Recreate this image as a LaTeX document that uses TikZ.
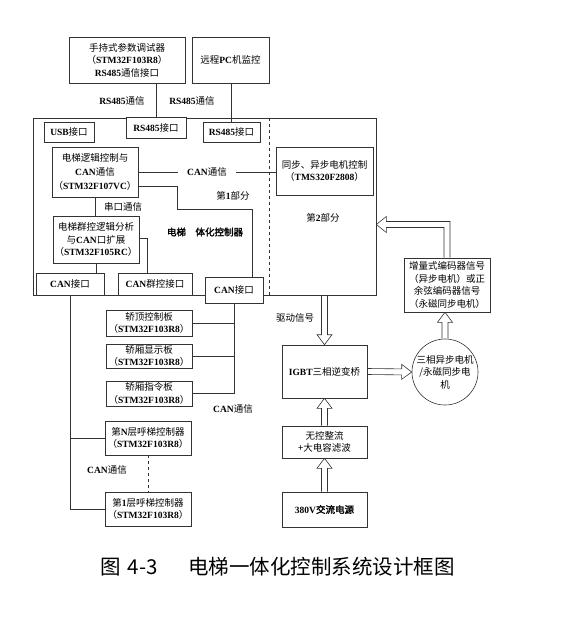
\documentclass[tikz,border=0pt]{standalone}
\usepackage{fontspec}
\setmainfont{Noto Sans CJK SC}[AutoFakeBold=2]
\newfontfamily\enfont{Liberation Serif}
\newcommand{\en}[1]{{\enfont\bfseries #1}}
\usetikzlibrary{calc}
\tikzset{
  box/.style={draw=black!80, line width=0.6pt, fill=white, align=center, inner sep=1pt},
  conn/.style={draw=black!80, line width=0.6pt},
  hollow/.style={draw=black!80, line width=0.6pt, line join=miter},
}
% block arrow from #1 to #2
\newcommand{\hollowarrow}[2]{%
  \coordinate (hb) at ($(#2)!10pt!(#1)$);
  \draw[hollow] ($(#1)!3pt!90:(#2)$) -- ($(hb)!3pt!-90:(#1)$) -- ($(hb)!7.5pt!-90:(#1)$)
    -- (#2) -- ($(hb)!7.5pt!90:(#1)$) -- ($(hb)!3pt!90:(#1)$) -- ($(#1)!3pt!-90:(#2)$);
}
\begin{document}
\begin{tikzpicture}[x=1pt, y=-1pt, font=\fontsize{9.5}{12.5}\selectfont]
\useasboundingbox (0,0) rectangle (584,618);
% upper boxes
\node[box, minimum width=116pt, minimum height=46pt] (tool) at (127,60) {手持式参数调试器\\（\en{STM32F103R8}）\\\en{RS485}通信接口};
\node[box, minimum width=77pt, minimum height=46pt] (pc) at (230.5,60) {远程\en{PC}机监控};

% main controller
\node[box, minimum width=343pt, minimum height=177pt] (main) at (204.5,206.5) {};
\draw[conn, dashed] (269,0 |- main.north) -- (269,0 |- main.south);
\node[box, minimum width=50pt, minimum height=20pt] (usb) at (69,132) {\en{USB}接口};
\node[box, minimum width=60pt, minimum height=21pt] (rsa) at (156,127.5) {\en{RS485}接口};
\node[box, minimum width=57pt, minimum height=20pt] (rsb) at (231.5,132) {\en{RS485}接口};
\node[box, minimum width=86pt, minimum height=50pt, font=\fontsize{9.5}{14}\selectfont] (logic) at (95,172) {电梯逻辑控制与\\\en{CAN}通信\\（\en{STM32F107VC}）};
\node[box, minimum width=97pt, minimum height=48pt] (motctl) at (324.5,171) {同步、异步电机控制\\（\en{TMS320F2808}）};
\node[box, minimum width=86pt, minimum height=47pt] (group) at (96,239.5) {电梯群控逻辑分析\\与\en{CAN}口扩展\\（\en{STM32F105RC}）};
\node[box, minimum width=68pt, minimum height=22pt] (canl) at (70,284) {\en{CAN}接口};
\node[box, minimum width=74pt, minimum height=22pt] (cang) at (155,284) {\en{CAN}群控接口};
\node[box, minimum width=58pt, minimum height=26pt] (canr) at (234,290) {\en{CAN}接口};
\node at (233,196) {第\en{1}部分};
\node at (323,218) {第\en{2}部分};
\node[font=\fontsize{9.5}{12.5}\selectfont\bfseries] at (205,232) {电梯\hspace{1em}体化控制器};

% car and hall boards
\node[box, minimum width=86pt, minimum height=26pt] (roof) at (149,323) {轿顶控制板\\（\en{STM32F103R8}）};
\node[box, minimum width=86pt, minimum height=24pt] (disp) at (149,356) {轿厢显示板\\（\en{STM32F103R8}）};
\node[box, minimum width=86pt, minimum height=25pt] (cmd) at (149,393.5) {轿厢指令板\\（\en{STM32F103R8}）};
\node[box, minimum width=86pt, minimum height=34pt] (calln) at (148,438) {第\en{N}层呼梯控制器\\（\en{STM32F103R8}）};
\node[box, minimum width=86pt, minimum height=34pt] (call1) at (148,509) {第\en{1}层呼梯控制器\\（\en{STM32F103R8}）};

% power part
\node[box, minimum width=85pt, minimum height=53pt] (igbt) at (324.5,371.5) {\en{IGBT}三相逆变桥};
\node[box, circle, inner sep=0pt, minimum size=66pt] (motor) at (445,372) {三相异步电机\\/永磁同步电\\机};
\node[box, minimum width=86pt, minimum height=54pt] (enc) at (447,285) {增量式编码器信号\\（异步电机）或正\\余弦编码器信号\\（永磁同步电机）};
\node[box, minimum width=85pt, minimum height=32pt] (rect) at (324.5,442) {无控整流\\+大电容滤波};
\node[box, minimum width=85pt, minimum height=35pt, font=\fontsize{9.5}{12.5}\selectfont\bfseries] (ac) at (324.5,509.5) {\en{380V}交流电源};

% connectors
\draw[conn] (rsa.north |- tool.south) -- (rsa.north);
\draw[conn] (rsb.north |- pc.south) -- (rsb.north);
\node at (122,101) {\en{RS485}通信};
\node at (192,101) {\en{RS485}通信};
\draw[conn] (logic.east) -- node[fill=white, inner xsep=9pt] {\en{CAN}通信} (logic.east -| motctl.west);
\draw[conn] ([yshift=-14pt]logic.east) -- ++(39,0) -- ++(0,23) -| ([xshift=18pt]canr.north);
\draw[conn] (logic.south) -- (logic.south |- group.north);
\node at (123,207) {串口通信};
\draw[conn] ([yshift=1.5pt]group.east) -| ([xshift=-8pt]cang.north);
\draw[conn] (group.south) -- (group.south |- canl.north);
\draw[conn] (canl.south) |- (call1.west);
\draw[conn] (canl.south |- calln.west) -- (calln.west);
\draw[conn] (canr.south) |- (cmd.east);
\draw[conn] (roof.east) -- (roof.east -| canr.south);
\draw[conn] (disp.east) -- (disp.east -| canr.south);
\draw[conn, dashed] (calln.south) -- (call1.north);
\node at (107,470) {\en{CAN}通信};
\node at (233,409) {\en{CAN}通信};
\node at (295,318) {驱动信号};

% block arrows
\coordinate (drv) at (igbt.north |- main.south);
\hollowarrow{drv}{igbt.north}
\hollowarrow{igbt.east}{motor.west}
\coordinate (encin) at (motor.north |- enc.south);
\hollowarrow{motor.north}{encin}
\hollowarrow{rect.north}{igbt.south}
\hollowarrow{ac.north}{rect.south}
\coordinate (fb) at ([yshift=-18pt]main.east);
\draw[hollow] let \p1=(enc.north), \p2=(fb) in
  (\x1-3pt,\y1) -- (\x1-3pt,\y2-3pt) -- (\x2+10pt,\y2-3pt) -- (\x2+10pt,\y2-8pt) -- (\p2)
  -- (\x2+10pt,\y2+8pt) -- (\x2+10pt,\y2+3pt) -- (\x1+3pt,\y2+3pt) -- (\x1+3pt,\y1);

% caption
\node[anchor=west, font=\fontsize{20.5}{24}\selectfont, inner sep=0pt] (cap) at (100,567) {图\hspace{0.35em}4-3\hspace{1.5em}电梯一体化控制系统设计框图};
\end{tikzpicture}
\end{document}
